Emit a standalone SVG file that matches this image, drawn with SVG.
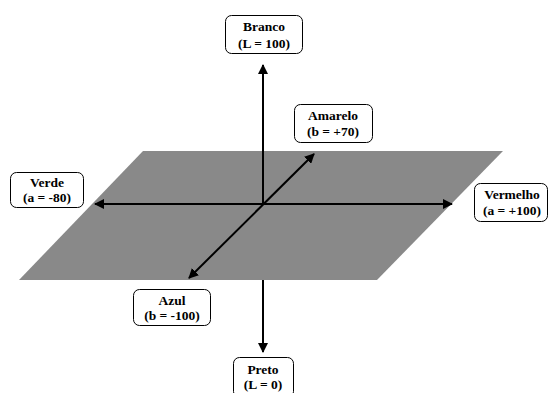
<svg xmlns="http://www.w3.org/2000/svg" width="550" height="393" viewBox="0 0 550 393">
<style>
.box{fill:#fff;stroke:#000;stroke-width:1}
.t{font-family:"Liberation Serif","Times New Roman",serif;font-weight:bold;font-size:13.5px;text-anchor:middle;fill:#000}
.ax{stroke:#000;stroke-width:2;fill:none}
</style>
<defs>
<marker id="ah" viewBox="0 0 10 10" refX="9" refY="5" markerWidth="5" markerHeight="5" orient="auto-start-reverse" markerUnits="strokeWidth">
<path d="M0,0 L10,5 L0,10 Z" fill="#000"/>
</marker>
</defs>
<rect width="550" height="393" fill="#fff"/>
<g id="connectors">
<line class="ax" x1="263" y1="280" x2="263" y2="352" marker-end="url(#ah)"/>
<polygon id="plane" points="143,151 503,151 377,280 19,280" fill="#898989"/>
<line class="ax" x1="263" y1="204" x2="263" y2="65" marker-end="url(#ah)"/>
<line class="ax" x1="95" y1="204" x2="452" y2="204" marker-start="url(#ah)" marker-end="url(#ah)"/>
<line class="ax" x1="189" y1="278" x2="314" y2="154" marker-start="url(#ah)" marker-end="url(#ah)"/>
</g>
<g id="branco">
<rect class="box" x="225.5" y="15.5" width="77" height="38" rx="6"/>
<text class="t" x="264" y="31">Branco</text>
<text class="t" x="264" y="48">(L = 100)</text>
</g>
<g id="amarelo">
<rect class="box" x="294.5" y="104.5" width="78" height="38" rx="6"/>
<text class="t" x="333" y="120">Amarelo</text>
<text class="t" x="333" y="136">(b = +70)</text>
</g>
<g id="verde">
<rect class="box" x="10.5" y="172.5" width="73" height="35" rx="6"/>
<text class="t" x="47" y="187">Verde</text>
<text class="t" x="47" y="202">(a = -80)</text>
</g>
<g id="vermelho">
<rect class="box" x="474.5" y="183.5" width="73" height="38" rx="6"/>
<text class="t" x="512" y="199">Vermelho</text>
<text class="t" x="512" y="215">(a = +100)</text>
</g>
<g id="azul">
<rect class="box" x="133.5" y="289.5" width="77" height="36" rx="6"/>
<text class="t" x="172" y="305">Azul</text>
<text class="t" x="172" y="320">(b = -100)</text>
</g>
<g id="preto">
<rect class="box" x="233.5" y="357.5" width="60" height="40" rx="6"/>
<text class="t" x="263" y="374">Preto</text>
<text class="t" x="263" y="389">(L = 0)</text>
</g>
</svg>
